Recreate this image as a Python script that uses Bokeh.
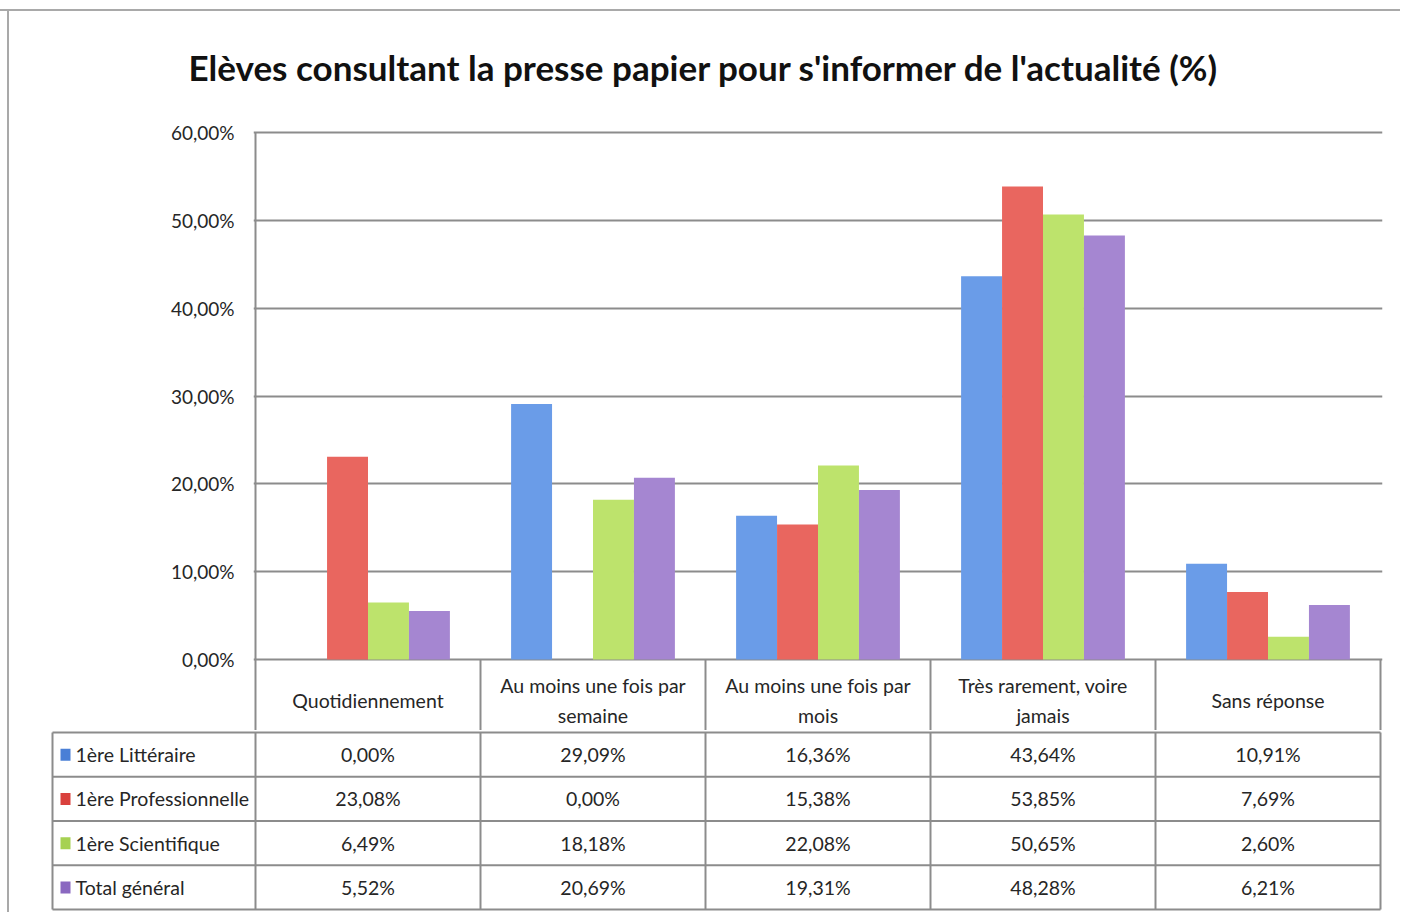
from bokeh.plotting import figure
from bokeh.models import Range1d, FixedTicker, CustomJSTickFormatter, ColumnDataSource
from bokeh.layouts import column, row
from bokeh.core.properties import value
from bokeh.embed import file_html
from bokeh.resources import INLINE
import numpy as np

# ---------------- data ----------------
categories = ["Quotidiennement", "Au moins une fois par\nsemaine", "Au moins une fois par\nmois",
              "Très rarement, voire\njamais", "Sans réponse"]
series = ["1ère Littéraire", "1ère Professionnelle", "1ère Scientifique", "Total général"]
litteraire = [0.00, 29.09, 16.36, 43.64, 10.91]
professionnelle = [23.08, 0.00, 15.38, 53.85, 7.69]
scientifique = [6.49, 18.18, 22.08, 50.65, 2.60]
total_general = [5.52, 20.69, 19.31, 48.28, 6.21]
y_ticks = [0, 10, 20, 30, 40, 50, 60]
title_text = "Elèves consultant la presse papier pour s'informer de l'actualité (%)"

values = [litteraire, professionnelle, scientifique, total_general]
bar_colors = ["#6a9ce8", "#e9665f", "#bde36c", "#a586d1"]
swatch_colors = ["#4a7fd6", "#d9413d", "#a6d152", "#8a68c0"]

FONT = "Lato"
TXT = "#262626"
LINE = "#8c8c8c"
FRAME_LINE = "#a9a9a9"

W = 1400
ncat = len(categories)
bar_w = 0.182
PX = 225.0          # pixels per category column
PY = 527.0 / 60.0   # pixels per percent

# outer chart-area border (top and left edges of the chart box), drawn as CSS background
top_styles = {
    "background-color": "white",
    "background-image": f"linear-gradient({FRAME_LINE},{FRAME_LINE}), linear-gradient({FRAME_LINE},{FRAME_LINE})",
    "background-size": "100% 2px, 2px 100%",
    "background-position": "0 9px, 7px 9px",
    "background-repeat": "no-repeat",
}
bot_styles = {
    "background-color": "white",
    "background-image": f"linear-gradient({FRAME_LINE},{FRAME_LINE})",
    "background-size": "2px 100%",
    "background-position": "7px 0",
    "background-repeat": "no-repeat",
}

# ---------------- top: chart + header row ----------------
top_h = 730
frame_left = 253
frame_right = 1382
p = figure(width=W, height=top_h, output_backend="svg", toolbar_location=None,
           x_axis_location=None, min_border_left=frame_left, min_border_right=W - frame_right,
           min_border_top=130, min_border_bottom=0,
           x_range=Range1d(-2 / PX, -2 / PX + (frame_right - frame_left) / PX),
           y_range=Range1d(-(top_h - 659) / PY, 60 + 2 / PY),
           styles=top_styles)
p.outline_line_color = None
p.background_fill_color = "white"
p.border_fill_color = None
p.xgrid.visible = False
p.ygrid.ticker = FixedTicker(ticks=y_ticks)
p.ygrid.grid_line_color = LINE
p.ygrid.grid_line_width = 2

ax = p.yaxis[0]
ax.ticker = FixedTicker(ticks=y_ticks)
ax.formatter = CustomJSTickFormatter(code="return tick.toFixed(2).replace('.', ',') + '%';")
ax.axis_line_color = None
ax.major_tick_line_color = None
ax.minor_tick_line_color = None
ax.major_tick_out = 0
ax.major_tick_in = 0
ax.major_label_standoff = 19
ax.major_label_text_font = FONT
ax.major_label_text_font_size = "19px"
ax.major_label_text_color = TXT

p.title.text = title_text
p.title.text_font = FONT
p.title.text_font_style = "bold"
p.title.text_font_size = "35px"
p.title.text_color = "#111111"
p.title.align = "left"
p.title.offset = 188 - frame_left
p.title.standoff = 86

xc = np.arange(ncat) + 0.5
offsets = (np.arange(len(series)) - 1.5) * bar_w
for vals, off, col in zip(values, offsets, bar_colors):
    p.vbar(x=xc + off, top=vals, bottom=0, width=bar_w, fill_color=col, line_color=None)

edges = np.arange(ncat + 1)
p.segment(x0=[0], y0=[60], x1=[0], y1=[0], line_color=LINE, line_width=2)
p.segment(x0=edges, y0=[0] * len(edges), x1=edges, y1=[-20] * len(edges), line_color=LINE, line_width=2)

hdr = ColumnDataSource(dict(x=xc, y=[-41 / PY] * ncat, t=categories))
p.text(x="x", y="y", text="t", source=hdr, text_align="center", text_baseline="middle",
       text_font=value(FONT), text_font_size="19.5px", text_color=TXT, text_line_height=1.33)

# ---------------- bottom: data table ----------------
bot_h = 182
rh = 44.25
y_top = 2 / rh
legend_left = -(255 - 52) / PX
q = figure(width=W, height=bot_h, output_backend="svg", toolbar_location=None,
           x_axis_location=None, y_axis_location=None,
           min_border_left=50, min_border_right=W - frame_right, min_border_top=0, min_border_bottom=0,
           x_range=Range1d(legend_left - 2 / PX, legend_left - 2 / PX + (frame_right - 50) / PX),
           y_range=Range1d(y_top - bot_h / rh, y_top),
           styles=bot_styles)
q.outline_line_color = None
q.grid.visible = False
q.background_fill_color = "white"
q.border_fill_color = None

nrow = len(series)
rows_y = -np.arange(nrow + 1)
q.segment(x0=[legend_left] * (nrow + 1), y0=rows_y, x1=[ncat] * (nrow + 1), y1=rows_y,
          line_color=LINE, line_width=2)
vx = np.concatenate([[legend_left], edges])
q.segment(x0=vx, y0=[0] * len(vx), x1=vx, y1=[-nrow] * len(vx), line_color=LINE, line_width=2)

ry = -np.arange(nrow) - 0.5
q.rect(x=[legend_left + 13 / PX] * nrow, y=ry, width=10, height=12, width_units="screen",
       height_units="screen", fill_color=swatch_colors, line_color=None)
q.text(x=[legend_left + 23 / PX] * nrow, y=ry, text=series, text_align="left", text_baseline="middle",
       text_font=value(FONT), text_font_size="19.5px", text_color=TXT)

cx, cy, ct = [], [], []
for r, vals in enumerate(values):
    for c, v in enumerate(vals):
        cx.append(c + 0.5)
        cy.append(-r - 0.5)
        ct.append(f"{v:.2f}".replace(".", ",") + "%")
q.text(x=cx, y=cy, text=ct, text_align="center", text_baseline="middle",
       text_font=value(FONT), text_font_size="19.5px", text_color=TXT)

layout = column(row(p), row(q), spacing=0)
open("out.html", "w").write(file_html(layout, INLINE))
